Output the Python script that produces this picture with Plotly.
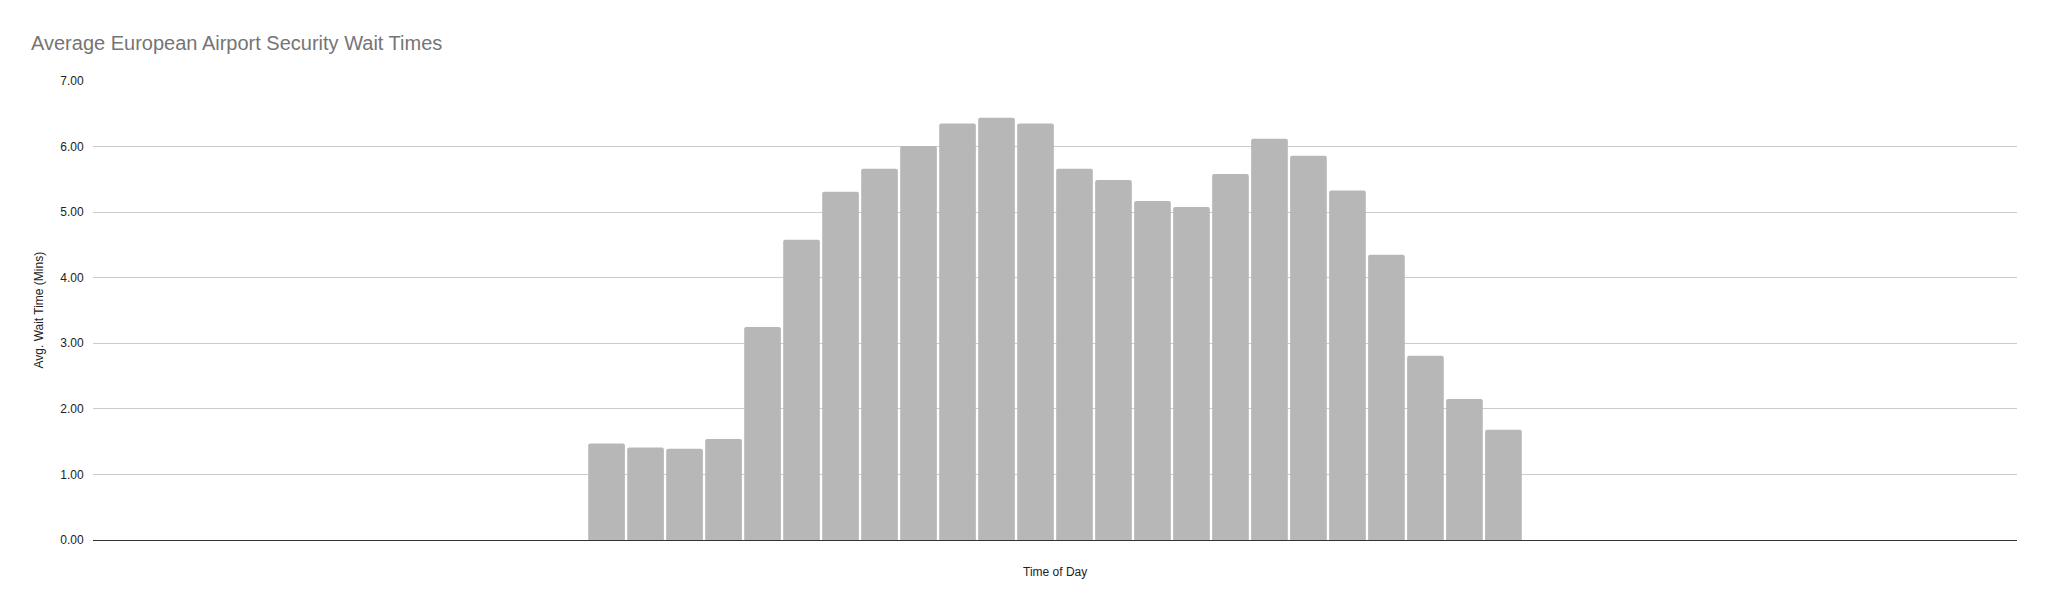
import plotly.graph_objects as go

# Data
time_slots = ["05:00", "05:30", "06:00", "06:30", "07:00", "07:30", "08:00", "08:30",
              "09:00", "09:30", "10:00", "10:30", "11:00", "11:30", "12:00", "12:30",
              "13:00", "13:30", "14:00", "14:30", "15:00", "15:30", "16:00", "16:30"]
wait_minutes = [1.47, 1.41, 1.39, 1.54, 3.25, 4.58, 5.31, 5.66,
                6.01, 6.35, 6.44, 6.35, 5.66, 5.49, 5.17, 5.08,
                5.58, 6.12, 5.86, 5.33, 4.35, 2.81, 2.15, 1.68]
y_ticks = [0, 1, 2, 3, 4, 5, 6, 7]
y_tick_labels = ["0.00", "1.00", "2.00", "3.00", "4.00", "5.00", "6.00", "7.00"]

W, H = 2048, 610
L, R, T, B = 92.7, 30.7, 81, 69.7
FONT = "Liberation Sans, Arial, sans-serif"

fig = go.Figure()
fig.add_trace(go.Bar(
    x=time_slots,
    y=wait_minutes,
    marker=dict(color="#b7b7b7", line=dict(width=0), cornerradius=2),
    hoverinfo="x+y",
))

pad = 13.17
fig.update_layout(
    width=W, height=H,
    margin=dict(l=L, r=R, t=T, b=B, pad=0),
    paper_bgcolor="white", plot_bgcolor="white",
    bargap=0.06,
    showlegend=False,
    title=dict(
        text="Average European Airport Security Wait Times",
        font=dict(family=FONT, size=20, color="#757575"),
        xref="container", yref="container",
        x=31 / W, xanchor="left",
        y=1 - 43 / H, yanchor="middle",
    ),
    xaxis=dict(
        type="category",
        range=[-pad, len(time_slots) - 1 + pad],
        showticklabels=False,
        showgrid=False,
        zeroline=False,
        showline=False,
        ticks="",
        fixedrange=True,
    ),
    yaxis=dict(
        range=[0, 7],
        tickvals=y_ticks,
        ticktext=y_tick_labels,
        tickfont=dict(family=FONT, size=12, color="#222222"),
        ticks="outside", ticklen=6, tickcolor="rgba(0,0,0,0)",
        showgrid=True, gridcolor="#cccccc", gridwidth=1,
        zeroline=True, zerolinecolor="#333333", zerolinewidth=1.3,
        showline=False,
        fixedrange=True,
    ),
    annotations=[
        dict(text="Avg. Wait Time (Mins)", xref="paper", yref="paper",
             x=0, y=0.5, xshift=-(L - 37.7), textangle=-90,
             xanchor="center", yanchor="middle", showarrow=False,
             font=dict(family=FONT, size=12, color="#222222")),
        dict(text="Time of Day", xref="paper", yref="paper",
             x=0.5, y=0, yshift=-(572.7 - 540.3),
             xanchor="center", yanchor="middle", showarrow=False,
             font=dict(family=FONT, size=12, color="#222222")),
    ],
)

fig.write_html(
    "out.html",
    config={"displayModeBar": False},
    post_script="document.body.style.margin='0';document.body.style.overflow='hidden';",
)
